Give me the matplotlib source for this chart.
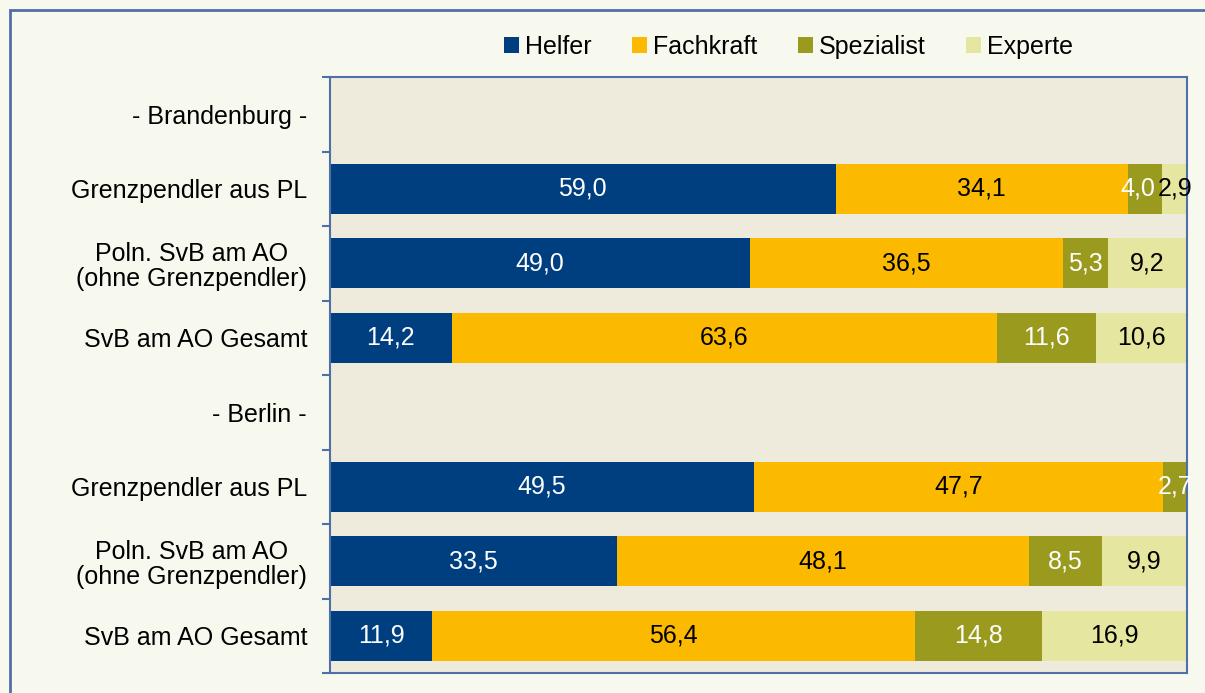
import matplotlib.pyplot as plt
from matplotlib.patches import Rectangle

plt.rcParams['font.family'] = ['Liberation Sans', 'DejaVu Sans']

categories = ['- Brandenburg -', 'Grenzpendler aus PL', 'Poln. SvB am AO\n(ohne Grenzpendler)',
              'SvB am AO Gesamt', '- Berlin -', 'Grenzpendler aus PL',
              'Poln. SvB am AO\n(ohne Grenzpendler)', 'SvB am AO Gesamt']
series = ['Helfer', 'Fachkraft', 'Spezialist', 'Experte']
helfer = [0, 59.0, 49.0, 14.2, 0, 49.5, 33.5, 11.9]
fachkraft = [0, 34.1, 36.5, 63.6, 0, 47.7, 48.1, 56.4]
spezialist = [0, 4.0, 5.3, 11.6, 0, 2.7, 8.5, 14.8]
experte = [0, 2.9, 9.2, 10.6, 0, 0.1, 9.9, 16.9]

colors = ['#003F7F', '#FBBA00', '#9A9A1F', '#E5E69F']
text_colors = ['white', 'black', 'white', 'black']
fs = 18
# small horizontal nudge (points) for the crowded label in the first Brandenburg row
nudge = {(1, 'Spezialist'): -5}

fig = plt.figure(figsize=(12.05, 6.93), dpi=100)
fig.patch.set_facecolor('#F8F9EE')
fig.patches.append(Rectangle((10 / 1205, -0.1), 1.2, 1 - 10 / 693 + 0.1,
                             transform=fig.transFigure, fill=False,
                             edgecolor='#4F6FA8', linewidth=2))

ax = fig.add_axes([330 / 1205, 20 / 693, 857 / 1205, 596 / 693])
ax.set_facecolor('#EEEBDC')

y = list(range(len(categories)))
left = [0] * len(categories)
for name, vals, col, tcol in zip(series, [helfer, fachkraft, spezialist, experte], colors, text_colors):
    ax.barh(y, vals, left=left, height=0.67, color=col, label=name)
    for yi, v, l in zip(y, vals, left):
        if v >= 1:
            ax.annotate(f'{v:.1f}'.replace('.', ','), (l + v / 2, yi),
                        xytext=(nudge.get((yi, name), 0), 0), textcoords='offset points',
                        ha='center', va='center', color=tcol, fontsize=fs,
                        annotation_clip=False, clip_on=False)
    left = [a + b for a, b in zip(left, vals)]

ax.set_xlim(0, 100)
ax.set_ylim(len(categories) - 0.5, -0.5)
ax.set_yticks(y)
ax.set_yticklabels(categories, fontsize=fs, ha='right', multialignment='center',
                   linespacing=1.05)
ax.set_yticks([i - 0.5 for i in range(len(categories) + 1)], minor=True)
ax.tick_params(axis='y', which='major', length=0, pad=16.5)
ax.tick_params(axis='y', which='minor', length=6, color='#4F6FA8', width=1.5)
ax.set_xticks([])
for s in ax.spines.values():
    s.set_color('#4F6FA8')
    s.set_linewidth(1.5)

ax.legend(loc='lower center', bbox_to_anchor=(0.535, 0.993), ncol=4, frameon=False,
          fontsize=fs, handlelength=0.6, handleheight=0.6, handletextpad=0.25,
          columnspacing=1.6)

fig.savefig('out.png', dpi=100, facecolor=fig.get_facecolor())
